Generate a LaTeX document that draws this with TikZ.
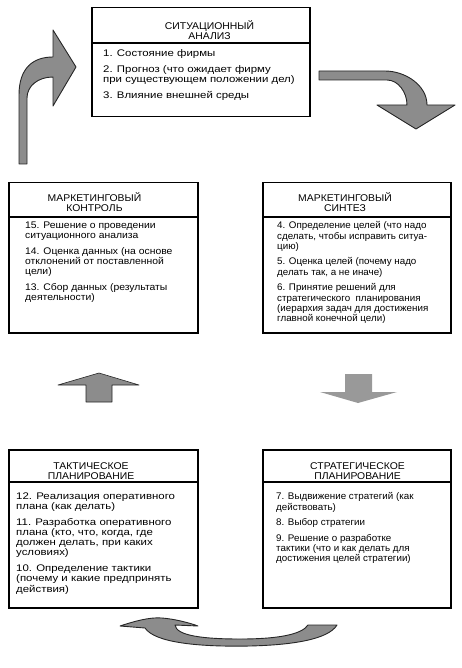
\documentclass[tikz,border=0pt]{standalone}
\usepackage{fontspec}
\setmainfont{Liberation Sans}
\newfontfamily\titlefont[FakeStretch=1.06]{Liberation Sans}
\newfontfamily\listfont[FakeStretch=1.08]{Liberation Sans}
\newfontfamily\widelistfont[FakeStretch=1.19]{Liberation Sans}
\newfontfamily\narrowlistfont[FakeStretch=1.02]{Liberation Sans}

\begin{document}
\begin{tikzpicture}[x=1pt,y=-1pt,
        stage box/.style={draw,line width=1.5pt,inner sep=0pt,anchor=north west},
        stage title/.style={align=center,inner sep=0pt,
            font=\titlefont\fontsize{9.8}{10.2}\selectfont},
        stage list/.style={align=left,anchor=north west,inner sep=0pt,
            font=\listfont\fontsize{9.6}{10.2}\selectfont},
        wide/.style={font=\widelistfont\fontsize{9.6}{10.2}\selectfont},
        narrow/.style={font=\narrowlistfont\fontsize{9.6}{10.2}\selectfont},
        block arrow/.style={fill=black!45,draw=black!85,line width=0.9pt,line join=round}]
    \useasboundingbox (0,0) rectangle (461,668);
    % the five stages
    \node (analysis) [stage box,minimum width=218pt,minimum height=109pt] at (91,7) {};
    \node (control) [stage box,minimum width=189pt,minimum height=150pt] at (8,182) {};
    \node (synthesis) [stage box,minimum width=188pt,minimum height=150pt] at (262,182) {};
    \node (tactics) [stage box,minimum width=189pt,minimum height=158pt] at (8,449) {};
    \node (strategy) [stage box,minimum width=188pt,minimum height=158pt] at (262,449) {};
    \draw[line width=1.2pt] ([yshift=-36pt]analysis.north west) -- ([yshift=-36pt]analysis.north east);
    \draw[line width=1.2pt] ([yshift=-35pt]control.north west) -- ([yshift=-35pt]control.north east);
    \draw[line width=1.2pt] ([yshift=-35pt]synthesis.north west) -- ([yshift=-35pt]synthesis.north east);
    \draw[line width=1.2pt] ([yshift=-33pt]tactics.north west) -- ([yshift=-33pt]tactics.north east);
    \draw[line width=1.2pt] ([yshift=-33pt]strategy.north west) -- ([yshift=-33pt]strategy.north east);
    % titles
    \node (analysis title) [stage title] at (209.5,30) {СИТУАЦИОННЫЙ\\АНАЛИЗ};
    \node (control title) [stage title] at (94.5,202) {МАРКЕТИНГОВЫЙ\\КОНТРОЛЬ};
    \node (synthesis title) [stage title] at (345,202) {МАРКЕТИНГОВЫЙ\\СИНТЕЗ};
    \node (tactics title) [stage title] at (91,471) {ТАКТИЧЕСКОЕ\\ПЛАНИРОВАНИЕ};
    \node (strategy title) [stage title] at (357.5,471) {СТРАТЕГИЧЕСКОЕ\\ПЛАНИРОВАНИЕ};
    % lists
    \node (analysis list) [stage list,wide] at (103,49.5) {1. Состояние фирмы\\[5.5pt]
        2. Прогноз (что ожидает фирму\\при существующем положении дел)\\[5.5pt]
        3. Влияние внешней среды};
    \node (control list) [stage list] at (25,221.5) {15. Решение о проведении\\ситуационного анализа\\[5.5pt]
        14. Оценка данных (на основе\\отклонений от поставленной\\цели)\\[5.5pt]
        13. Сбор данных (результаты\\деятельности)};
    \node (synthesis list) [stage list,narrow] at (277,221.5) {4. Определение целей (что надо\\сделать, чтобы исправить ситуа-\\цию)\\[5.5pt]
        5. Оценка целей (почему надо\\делать так, а не иначе)\\[5.5pt]
        6. Принятие решений для\\стратегического\ \ планирования\\(иерархия задач для достижения\\главной конечной цели)};
    \node (tactics list) [stage list,wide] at (16,492.5) {12. Реализация оперативного\\плана (как делать)\\[5.5pt]
        11. Разработка оперативного\\плана (кто, что, когда, где\\должен делать, при каких\\условиях)\\[5.5pt]
        10. Определение тактики\\(почему и какие предпринять\\действия)};
    \node (strategy list) [stage list,narrow] at (276,492.5) {7. Выдвижение стратегий (как\\действовать)\\[5.5pt]
        8. Выбор стратегии\\[5.5pt]
        9. Решение о разработке\\тактики (что и как делать для\\достижения целей стратегии)};
    % block arrows between the stages
    \draw[block arrow] (19,164) -- (19,95) .. controls (19,68) and (33,57) .. (53,57)
        -- (53,30) -- (76,67) -- (53,106) -- (53,77)
        .. controls (38,77) and (27,86) .. (27,98) -- (27,164) -- cycle;
    \draw[block arrow] (319,71) -- (385,71) .. controls (405,71) and (427,85) .. (427,105)
        -- (455,105) -- (416,129) -- (377,105) -- (407,105)
        .. controls (407,92) and (398,80) .. (387,80) -- (319,80) -- cycle;
    \draw[block arrow,line width=0.6pt] (86,402) -- (86,385) -- (58,385) -- (99,373)
        -- (139,385) -- (112,385) -- (112,402) -- cycle;
    \fill[black!40] (345,374) -- (372,374) -- (372,392) -- (397,392) -- (358,403)
        -- (320,392) -- (345,392) -- cycle;
    \draw[block arrow] (120,626) .. controls (135,621) and (150,617) .. (162,618)
        .. controls (175,619) and (190,623) .. (198,626) -- (175,625)
        .. controls (176,636) and (205,639) .. (240,639)
        .. controls (280,639) and (302,634) .. (308,625) -- (337,625)
        .. controls (328,640) and (290,645) .. (250,646)
        .. controls (200,647) and (155,643) .. (145,628) -- cycle;
\end{tikzpicture}
\end{document}
